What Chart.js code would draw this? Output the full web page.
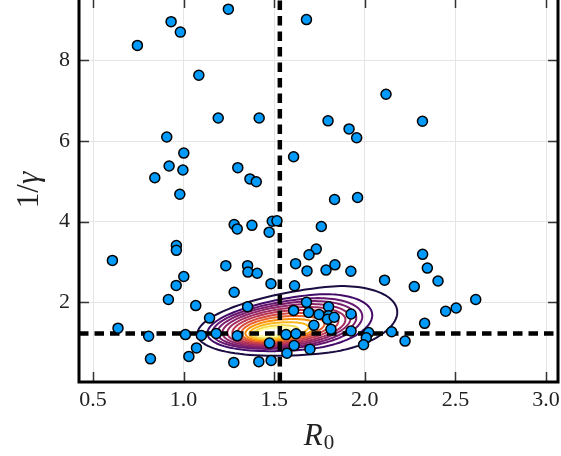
<!DOCTYPE html>
<html>
<head>
<meta charset="utf-8">
<script src="https://cdn.jsdelivr.net/npm/chart.js@4.4.1/dist/chart.umd.min.js"></script>
<style>
  html, body { margin: 0; padding: 0; background: #fff; overflow: hidden; }
  #wrap { position: relative; width: 561px; height: 456px; overflow: hidden; }
  #posterior { position: absolute; left: 0; top: -5px; }
</style>
</head>
<body>
<div id="wrap"><canvas id="posterior" width="561" height="460"></canvas></div>
<script>
// Posterior samples: R0 against infectious period 1/gamma
const r0Values = [
  1.247, 0.931, 0.982, 0.745, 1.084, 1.191, 1.417, 0.907, 1.001, 0.920,
  0.996, 1.299, 0.841, 1.366, 1.401, 0.979, 1.678, 2.117, 1.797, 2.318,
  1.913, 1.955, 1.607, 1.833, 1.960, 0.607, 0.960, 0.960, 1.279, 1.296,
  1.377, 1.489, 1.472, 1.515, 1.233, 1.353, 1.355, 1.406, 1.001, 0.959,
  1.482, 1.279, 0.916, 1.067, 1.353, 1.143, 0.638, 0.807, 1.010, 1.098,
  1.180, 1.296, 1.474, 1.071, 1.029, 0.817, 1.277, 1.415, 1.483, 1.760,
  1.732, 1.692, 1.618, 1.681, 1.786, 1.835, 1.923, 1.612, 2.109, 2.273,
  2.319, 2.345, 2.404, 2.612, 2.446, 2.504, 2.330, 2.222, 2.148, 2.021,
  2.008, 1.993, 1.924, 1.924, 1.813, 1.719, 1.697, 1.610, 1.570, 1.565,
  1.620, 1.678, 1.607, 1.690, 1.747, 1.800, 1.800, 1.794, 1.831
];
const invGammaValues = [
  9.27, 8.96, 8.70, 8.37, 7.63, 6.57, 6.57, 6.10, 5.70, 5.38,
  5.28, 5.34, 5.09, 5.06, 4.99, 4.68, 9.01, 7.16, 6.50, 6.49,
  6.30, 6.08, 5.61, 4.55, 4.60, 3.04, 3.41, 3.29, 3.93, 3.82,
  3.91, 4.01, 3.74, 4.02, 2.91, 2.91, 2.75, 2.72, 2.64, 2.42,
  2.46, 2.25, 2.07, 1.92, 1.89, 1.61, 1.36, 1.16, 1.20, 1.18,
  1.23, 1.17, 0.99, 0.87, 0.66, 0.60, 0.51, 0.53, 0.56, 3.88,
  3.32, 3.18, 2.96, 2.78, 2.80, 2.93, 2.77, 2.41, 2.55, 2.39,
  3.19, 2.85, 2.53, 2.07, 1.78, 1.86, 1.48, 1.04, 1.27, 1.25,
  1.12, 0.95, 1.29, 1.71, 1.33, 1.43, 0.84, 0.93, 0.74, 1.20,
  1.22, 2.00, 1.80, 1.75, 1.70, 1.89, 1.67, 1.58, 1.63
];

// reference values (dashed lines)
const r0Ref = 1.531;
const invGammaRef = 1.227;

// axis ranges and ticks
const xMin = 0.4227, xMax = 3.066;
const yMin = 0.025, yMax = 9.546;
const xTicks = [0.5, 1.0, 1.5, 2.0, 2.5, 3.0];
const yTicks = [2, 4, 6, 8];

// density contour levels, outermost first (egg-shaped: separate left/right half widths)
const contourCx  = [1.782, 1.699, 1.655, 1.627, 1.600, 1.578, 1.556, 1.539, 1.523, 1.512, 1.501, 1.490, 1.484];
const contourCy  = [1.562, 1.513, 1.488, 1.463, 1.438, 1.413, 1.389, 1.364, 1.339, 1.314, 1.289, 1.265, 1.265];
const contourRxL = [0.706, 0.568, 0.497, 0.441, 0.386, 0.337, 0.287, 0.243, 0.204, 0.171, 0.138, 0.105, 0.077];
const contourRxR = [0.397, 0.342, 0.331, 0.326, 0.320, 0.315, 0.298, 0.276, 0.254, 0.226, 0.188, 0.143, 0.105];
const contourRy  = [0.818, 0.669, 0.595, 0.545, 0.496, 0.446, 0.397, 0.347, 0.298, 0.248, 0.198, 0.149, 0.099];
const contourTilt = 0.49;
const contourColors = [
  '#1b0c41', '#420a68', '#65156e', '#7a1d6d', '#8e2469', '#a32c61', '#bc3754',
  '#d44842', '#ea632a', '#f98e09', '#fbb61a', '#f5db4b', '#fcffa4'
];

const SERIF = "'Liberation Serif', 'DejaVu Serif', serif";

const contourPlugin = {
  id: 'densityContours',
  beforeDatasetsDraw(chart) {
    const { ctx, chartArea } = chart;
    const x = chart.scales.x, y = chart.scales.y;
    ctx.save();
    ctx.beginPath();
    ctx.rect(chartArea.left, chartArea.top, chartArea.width, chartArea.height);
    ctx.clip();
    ctx.lineWidth = 2;
    ctx.lineJoin = 'round';
    contourCx.forEach((cx, i) => {
      ctx.beginPath();
      const steps = 120;
      for (let k = 0; k <= steps; k++) {
        const t = (k / steps) * Math.PI * 2;
        const c = Math.cos(t), s = Math.sin(t);
        const dx = (c < 0 ? contourRxL[i] : contourRxR[i]) * c;
        const px = x.getPixelForValue(cx + dx);
        const py = y.getPixelForValue(contourCy[i] + contourRy[i] * s + contourTilt * dx);
        if (k === 0) ctx.moveTo(px, py); else ctx.lineTo(px, py);
      }
      ctx.closePath();
      ctx.strokeStyle = contourColors[i];
      ctx.stroke();
    });
    ctx.restore();
  }
};

// box frame, inward ticks on all four sides, axis titles
const framePlugin = {
  id: 'boxFrame',
  afterDraw(chart) {
    const { ctx, chartArea: a } = chart;
    const x = chart.scales.x, y = chart.scales.y;
    const tl = 10;
    ctx.save();
    ctx.strokeStyle = '#333';
    ctx.lineWidth = 1.5;
    ctx.beginPath();
    xTicks.forEach(v => {
      const px = Math.round(x.getPixelForValue(v)) + 0.5;
      ctx.moveTo(px, a.bottom); ctx.lineTo(px, a.bottom - tl);
      ctx.moveTo(px, a.top); ctx.lineTo(px, a.top + tl);
    });
    yTicks.forEach(v => {
      const py = Math.round(y.getPixelForValue(v)) + 0.5;
      ctx.moveTo(a.left, py); ctx.lineTo(a.left + tl, py);
      ctx.moveTo(a.right, py); ctx.lineTo(a.right - tl, py);
    });
    ctx.stroke();

    ctx.strokeStyle = '#000';
    ctx.lineWidth = 3;
    ctx.strokeRect(a.left, a.top, a.right - a.left, a.bottom - a.top);

    ctx.fillStyle = '#222';
    ctx.textBaseline = 'alphabetic';

    // x title: italic R with upright subscript 0
    ctx.font = `italic 31px ${SERIF}`;
    const wR = ctx.measureText('R').width;
    ctx.font = `21px ${SERIF}`;
    const w0 = ctx.measureText('0').width;
    const xc = (a.left + a.right) / 2;
    const xs = xc - (wR + w0) / 2;
    ctx.font = `italic 31px ${SERIF}`;
    ctx.fillText('R', xs, 450);
    ctx.font = `21px ${SERIF}`;
    ctx.fillText('0', xs + wR + 1, 454);

    // y title: 1/γ, rotated
    ctx.save();
    ctx.translate(38, (a.top + a.bottom) / 2);
    ctx.rotate(-Math.PI / 2);
    ctx.font = `31px ${SERIF}`;
    const w1 = ctx.measureText('1/').width;
    ctx.font = `italic 31px ${SERIF}`;
    const wg = ctx.measureText('γ').width;
    const ys = -(w1 + wg) / 2;
    ctx.font = `31px ${SERIF}`;
    ctx.fillText('1/', ys, 0);
    ctx.font = `italic 31px ${SERIF}`;
    ctx.fillText('γ', ys + w1, 0);
    ctx.restore();

    ctx.restore();
  }
};

function buildPoints() {
  return r0Values.map((r, i) => ({ x: r, y: invGammaValues[i] }));
}

// keep the plot box fixed: no extra room for edge labels
function noEdgePadding(s) {
  s.paddingTop = 0;
  s.paddingBottom = 0;
  s.paddingLeft = 0;
  s.paddingRight = 0;
}

const ctx = document.getElementById('posterior');

new Chart(ctx, {
  type: 'scatter',
  data: {
    datasets: [
      {
        data: buildPoints(),
        backgroundColor: '#009afa',
        borderColor: '#000',
        borderWidth: 1.5,
        pointRadius: 5,
        order: 0
      },
      {
        type: 'line',
        data: [{ x: r0Ref, y: yMin }, { x: r0Ref, y: yMax }],
        borderColor: '#000',
        borderWidth: 4.5,
        borderDash: [9.5, 6],
        pointRadius: 0,
        fill: false,
        order: 1
      },
      {
        type: 'line',
        data: [{ x: xMin, y: invGammaRef }, { x: xMax, y: invGammaRef }],
        borderColor: '#000',
        borderWidth: 4.5,
        borderDash: [9.5, 6],
        pointRadius: 0,
        fill: false,
        order: 1
      }
    ]
  },
  options: {
    responsive: false,
    animation: false,
    devicePixelRatio: 1,
    events: [],
    layout: { autoPadding: false, padding: { left: 0, right: 3, top: 3, bottom: 0 } },
    plugins: { legend: { display: false }, tooltip: { enabled: false } },
    scales: {
      x: {
        type: 'linear',
        min: xMin,
        max: xMax,
        afterBuildTicks: s => { s.ticks = xTicks.map(v => ({ value: v })); },
        afterFit: s => { s.height = 73; noEdgePadding(s); },
        grid: { color: '#e5e5e5', lineWidth: 1, drawTicks: false },
        border: { display: false },
        ticks: {
          padding: 5,
          color: '#222',
          font: { family: SERIF, size: 22 },
          maxRotation: 0,
          callback: v => v.toFixed(1)
        }
      },
      y: {
        type: 'linear',
        min: yMin,
        max: yMax,
        afterBuildTicks: s => { s.ticks = yTicks.map(v => ({ value: v })); },
        afterFit: s => { s.width = 79; noEdgePadding(s); },
        grid: { color: '#e5e5e5', lineWidth: 1, drawTicks: false },
        border: { display: false },
        ticks: {
          padding: 9,
          color: '#222',
          font: { family: SERIF, size: 22 },
          callback: v => String(v)
        }
      }
    }
  },
  plugins: [contourPlugin, framePlugin]
});
</script>
</body>
</html>
